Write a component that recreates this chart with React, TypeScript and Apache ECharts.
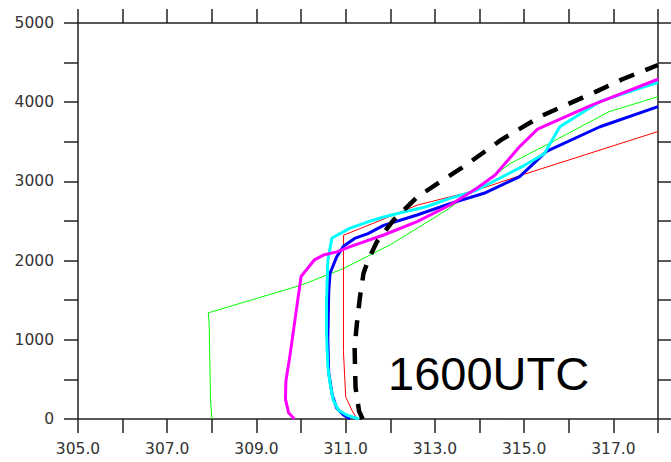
import React, { useEffect, useRef } from "react";
import * as echarts from "echarts";

// Potential temperature (K) vs height (m) profiles, [theta, height]
const greenProfile: [number, number][] = [
  [308.0, 0], [307.97, 250], [307.94, 1200], [307.92, 1340], [310.0, 1690],
  [310.95, 1900], [312.0, 2200], [313.27, 2640], [314.7, 3230], [315.5, 3460],
  [316.9, 3880], [318.0, 4070],
];

const redProfile: [number, number][] = [
  [311.25, 0], [311.14, 110], [311.0, 280], [310.95, 850], [310.95, 2320],
  [311.7, 2490], [312.6, 2700], [313.94, 2890], [315.0, 3090], [318.0, 3630],
];

const blueProfile: [number, number][] = [
  [311.1, 0], [310.95, 50], [310.8, 135], [310.7, 300], [310.62, 580],
  [310.6, 1000], [310.62, 1600], [310.65, 1840], [310.8, 2050], [310.95, 2180],
  [311.2, 2280], [311.5, 2340], [311.85, 2445], [312.6, 2576], [313.34, 2720],
  [314.1, 2850], [314.9, 3060], [315.5, 3380], [316.7, 3690], [318.0, 3945],
];

const cyanProfile: [number, number][] = [
  [311.3, 0], [311.02, 50], [310.84, 110], [310.72, 240], [310.65, 450],
  [310.6, 660], [310.57, 1080], [310.57, 1500], [310.6, 2000], [310.69, 2285],
  [311.1, 2410], [311.5, 2490], [311.85, 2550], [312.2, 2600], [312.8, 2680],
  [313.3, 2780], [313.9, 2880], [314.45, 3040], [315.0, 3200], [315.45, 3350],
  [315.8, 3690], [316.7, 4010], [318.0, 4250],
];

const magentaProfile: [number, number][] = [
  [309.85, 0], [309.72, 80], [309.65, 250], [309.66, 480], [309.75, 800],
  [309.9, 1400], [310.0, 1800], [310.3, 2010], [310.5, 2070], [310.8, 2110],
  [311.1, 2176], [311.85, 2323], [312.6, 2491], [313.34, 2702], [313.94, 2913],
  [314.35, 3080], [314.9, 3440], [315.3, 3660], [316.5, 3960], [318.0, 4290],
];

const blackProfile: [number, number][] = [
  [311.38, 0], [311.3, 100], [311.22, 400], [311.2, 900], [311.25, 1200],
  [311.32, 1540], [311.4, 1840], [311.5, 2000], [311.7, 2240], [312.07, 2510],
  [312.6, 2800], [313.1, 2990], [313.6, 3170], [314.5, 3530], [315.4, 3830],
  [316.6, 4130], [317.2, 4290], [318.0, 4470],
];

const xMin = 305;
const xMax = 318;
const yMin = 0;
const yMax = 5000;
const timeLabel = "1600UTC";

const axisColor = "#222";
const labelColor = "#333";
const labelFont = "DejaVu Sans";

export default function App() {
  const ref = useRef<HTMLDivElement>(null);

  useEffect(() => {
    const chart = echarts.init(ref.current!, null, { renderer: "svg" });

    const tick = {
      show: true,
      inside: false,
      length: 14,
      lineStyle: { color: axisColor, width: 1.5 },
    };
    const line = { show: true, onZero: false, lineStyle: { color: axisColor, width: 1.5 } };

    const makeSeries = (
      data: [number, number][],
      color: string,
      width: number,
      z: number,
      type: "solid" | number[] = "solid"
    ) => ({
      type: "line",
      data,
      showSymbol: false,
      symbol: "none",
      z,
      lineStyle: { color, width, type, cap: "butt", join: "round" },
    });

    chart.setOption({
      animation: false,
      backgroundColor: "#fff",
      grid: { left: 78, right: 13, top: 23, bottom: 43, containLabel: false },
      xAxis: [
        {
          type: "value",
          position: "bottom",
          min: xMin,
          max: xMax,
          interval: 1,
          axisLine: line,
          axisTick: tick,
          splitLine: { show: false },
          axisLabel: {
            margin: 22,
            color: labelColor,
            fontFamily: labelFont,
            fontSize: 15.5,
            formatter: (v: number) =>
              Math.round(v) % 2 === 1 ? v.toFixed(1) : "",
          },
        },
        {
          type: "value",
          position: "top",
          min: xMin,
          max: xMax,
          interval: 1,
          axisLine: line,
          axisTick: tick,
          splitLine: { show: false },
          axisLabel: { show: false },
        },
      ],
      yAxis: [
        {
          type: "value",
          position: "left",
          min: yMin,
          max: yMax,
          interval: 500,
          axisLine: line,
          axisTick: tick,
          splitLine: { show: false },
          axisLabel: {
            margin: 24,
            color: labelColor,
            fontFamily: labelFont,
            fontSize: 15.5,
            formatter: (v: number) => (v % 1000 === 0 ? String(v) : ""),
          },
        },
        {
          type: "value",
          position: "right",
          min: yMin,
          max: yMax,
          interval: 500,
          axisLine: line,
          axisTick: tick,
          splitLine: { show: false },
          axisLabel: { show: false },
        },
      ],
      series: [
        makeSeries(greenProfile, "#00ff00", 1, 2),
        makeSeries(redProfile, "#ff0000", 1, 3),
        makeSeries(blueProfile, "#0000ff", 3, 4),
        makeSeries(cyanProfile, "#00ffff", 3, 5),
        makeSeries(magentaProfile, "#ff00ff", 3, 6),
        makeSeries(blackProfile, "#000000", 4.5, 7, [16, 12]),
      ],
      graphic: [
        {
          type: "text",
          left: 388,
          top: 350,
          z: 10,
          style: {
            text: timeLabel,
            fill: "#000",
            fontFamily: "Liberation Sans, Arial, sans-serif",
            fontSize: 47,
          },
        },
      ],
    });

    return () => chart.dispose();
  }, []);

  return (
    <div
      ref={ref}
      style={{ position: "fixed", left: 0, top: 0, width: 671, height: 462 }}
    />
  );
}
